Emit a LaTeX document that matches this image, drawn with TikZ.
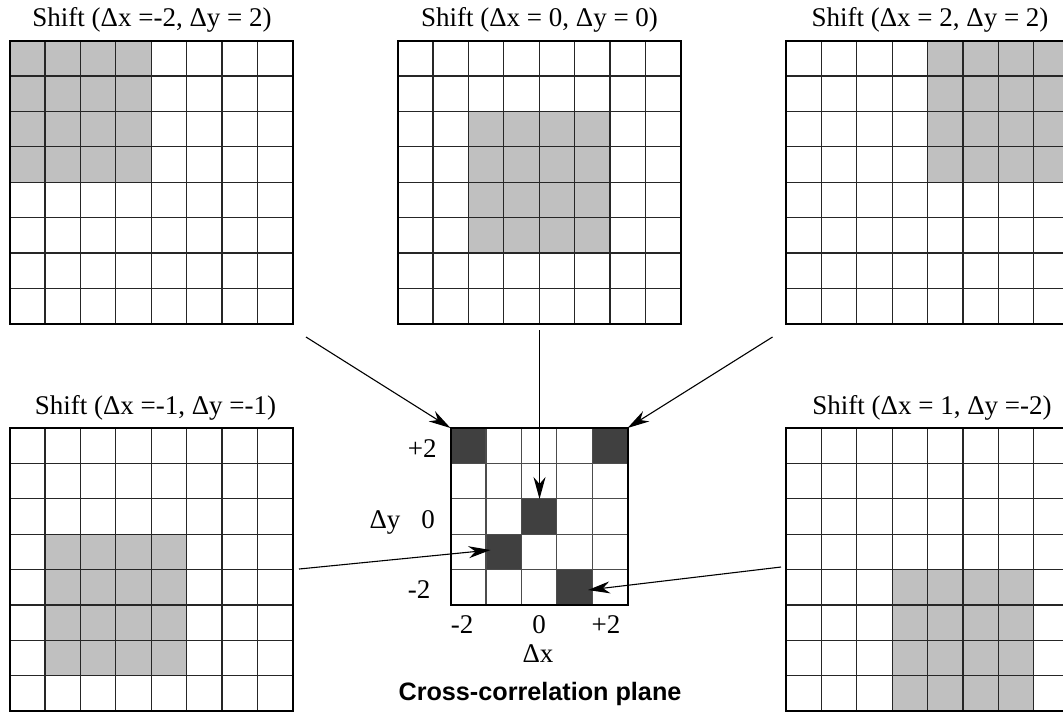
\documentclass[tikz,border=0pt]{standalone}
\usepackage{fontspec}
\setmainfont{Liberation Serif}
\newfontfamily\capfont{Liberation Sans}
\usetikzlibrary{arrows.meta}
\definecolor{shadegray}{HTML}{C0C0C0}
\definecolor{darkcell}{HTML}{404040}
\tikzset{
  outerline/.style={line width=1pt},
  innerline/.style={line width=0.6pt, black!85},
  ccinner/.style={line width=0.6pt, black!70},
  shadecell/.style={fill=shadegray},
  hitcell/.style={fill=darkcell},
  lbl/.style={font=\fontsize{13.5}{15}\selectfont, inner sep=0pt, anchor=base},
  ptr/.style={line width=0.55pt, -{Stealth[length=11pt, width=6pt, inset=3.5pt]}}
}
\def\cs{35.4}
% origin x, origin y, shaded start col, shaded start row
\newcommand\bigGrid[4]{%
  \fill[shadecell] ({#1+#3*\cs},{#2+#4*\cs}) rectangle ++({4*\cs},{4*\cs});
  \foreach \i in {1,...,7} {
    \draw[innerline] ({#1+\i*\cs},#2) -- ++(0,{8*\cs});
    \draw[innerline] (#1,{#2+\i*\cs}) -- ++({8*\cs},0);
  }
  \draw[outerline] (#1,#2) rectangle ++({8*\cs},{8*\cs});
}
\begin{document}
\begin{tikzpicture}[x=0.5pt, y=-0.5pt]
  \useasboundingbox (0,0) rectangle (1063,720);
  \clip (0,0) rectangle (1063,720);
  \fill[white] (0,0) rectangle (1063,720);

  % big grids
  \bigGrid{9.5}{40.5}{0}{0}
  \bigGrid{397.5}{40.5}{2}{2}
  \bigGrid{786}{40.5}{4}{0}
  \bigGrid{9.5}{428}{1}{3}
  \bigGrid{786}{428}{3}{4}

  % titles
  \node[lbl] (tTL) at (152,26) {Shift (Δx =-2, Δy = 2)};
  \node[lbl] (tTM) at (539.5,26) {Shift (Δx = 0, Δy = 0)};
  \node[lbl] (tTR) at (930,26) {Shift (Δx = 2, Δy = 2)};
  \node[lbl] (tBL) at (155.5,414) {Shift (Δx =-1, Δy =-1)};
  \node[lbl] (tBR) at (932,414) {Shift (Δx = 1, Δy =-2)};

  % cross-correlation plane
  \coordinate (cc) at (450.5,428);
  \foreach \c/\r in {0/0,4/0,2/2,1/3,3/4} {
    \fill[hitcell] ({450.5+\c*\cs},{428+\r*\cs}) rectangle ++(\cs,\cs);
  }
  \foreach \i in {1,...,4} {
    \draw[ccinner] ({450.5+\i*\cs},428) -- ++(0,{5*\cs});
    \draw[ccinner] (450.5,{428+\i*\cs}) -- ++({5*\cs},0);
  }
  \draw[outerline] (cc) rectangle ++({5*\cs},{5*\cs});

  \node[lbl, anchor=base east] (yp2) at (437,457) {+2};
  \node[lbl] (y0) at (428,528) {0};
  \node[lbl] (ym2) at (419,598) {-2};
  \node[lbl] (dy) at (385,528) {Δy};
  \node[lbl] (xm2) at (462,633) {-2};
  \node[lbl] (x0) at (539,633) {0};
  \node[lbl] (xp2) at (606,633) {+2};
  \node[lbl] (dx) at (538,662) {Δx};
  \node[lbl, font=\capfont\bfseries\fontsize{12.6}{14}\selectfont] (title) at (540,700) {Cross-correlation plane};

  % arrow targets and sources
  \coordinate (hTL) at (450.5,428);
  \coordinate (hTR) at (627.5,428);
  \coordinate (hC) at (539.5,499);
  \coordinate (hBL) at (490.5,550);
  \coordinate (hBR) at (588,590);
  \coordinate (sTL) at (306,337);
  \coordinate (sTM) at (539.5,330);
  \coordinate (sTR) at (772.5,337);
  \coordinate (sBL) at (299,569);
  \coordinate (sBR) at (781,567);

  \draw[ptr] (sTL) -- (hTL);
  \draw[ptr] (sTM) -- (hC);
  \draw[ptr] (sTR) -- (hTR);
  \draw[ptr] (sBL) -- (hBL);
  \draw[ptr] (sBR) -- (hBR);
\end{tikzpicture}
\end{document}
